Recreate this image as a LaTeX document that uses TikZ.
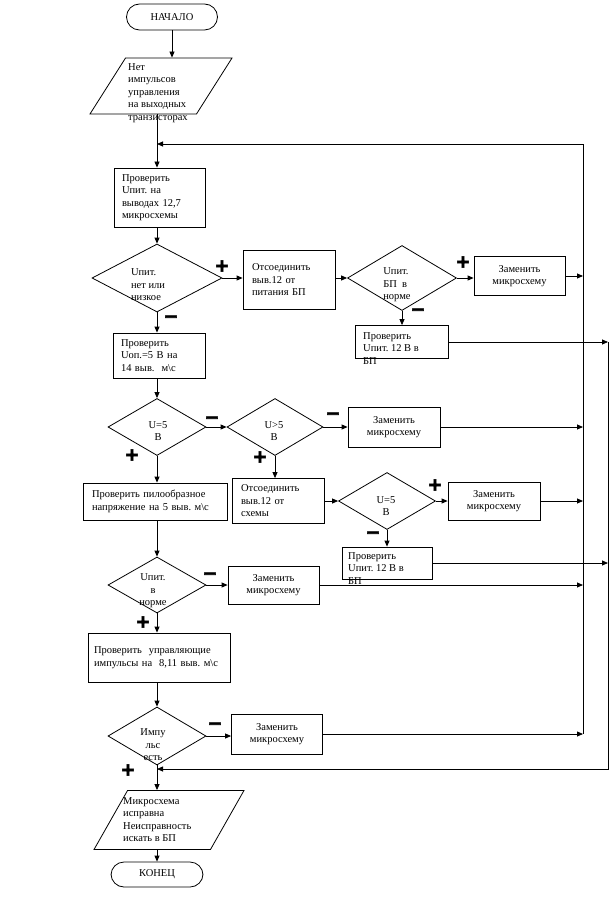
\documentclass[tikz,border=0pt]{standalone}
\usepackage{fontspec}
\setmainfont{Liberation Serif}
\newfontfamily\signfont[FakeBold=3]{DejaVu Sans Bold}
\frenchspacing
\usepackage{tikz}
\usetikzlibrary{shapes.geometric,arrows.meta}
\tikzset{
  TB/.style={rectangle,rounded corners=13pt,draw,line width=0.8pt,
             minimum width=91pt,minimum height=26pt,inner sep=0pt},
  PB/.style={rectangle,draw,line width=0.8pt,align=left,
             inner xsep=8pt,inner ysep=0pt},
  ZB/.style={rectangle,draw,line width=0.8pt,align=center,inner sep=0pt,
             minimum width=91pt,minimum height=39pt},
  DM/.style={diamond,draw,line width=0.8pt,inner sep=0pt},
  PG/.style={trapezium,trapezium left angle=63.4,trapezium right angle=116.6,
             trapezium stretches=true,draw,line width=0.8pt,inner sep=2pt},
  TX/.style={inner sep=0pt},
  SG/.style={inner sep=0pt,font=\signfont\fontsize{18}{18}\selectfont},
  arr/.style={-{Triangle[length=6pt,width=5pt]},line width=0.8pt}
}

\begin{document}
\begin{tikzpicture}[x=1pt,y=-1pt,every node/.style={font=\fontsize{10.5}{12.5}\selectfont}]
  \useasboundingbox (0,0) rectangle (610,909);

  % main column
  \node[TB] (beg) at (172,17) {НАЧАЛО};
  \node[PG,minimum width=142pt,minimum height=56pt] (nsig) at (161,86) {};
  \node[TX,anchor=north west,align=left] (nsigt) at (128,63) {Нет\\импульсов\\управления\\на выходных\\транзисторах};
  \node[PB,text width=75pt,minimum height=59pt] (pv1) at (159.5,197.5) {Проверить\\Uпит. на\\выводах 12,7\\микросхемы};
  \node[DM,minimum width=130pt,minimum height=68pt] (d1) at (157,278) {};
  \node[TX,align=left] (d1t) at (148,285) {Uпит.\\нет или\\низкое};
  \node[PB,text width=76pt,minimum height=45pt] (uop) at (159,355.5) {Проверить\\Uоп.=5 В на\\14 выв.~ м\textbackslash с};
  \node[DM,minimum width=98pt,minimum height=57pt] (d3) at (157,427) {};
  \node[TX,align=center] (d3t) at (158,431) {U=5\\В};
  \node[PB,text width=126pt,inner xsep=9pt,minimum height=37pt] (pil) at (155,501.5) {Проверить пилообразное\\напряжение на 5 выв. м\textbackslash с};
  \node[DM,minimum width=98pt,minimum height=56pt] (d6) at (157,585) {};
  \node[TX,align=center] (d6t) at (153,591) {Uпит.\\в\\норме};
  \node[PB,text width=130pt,inner xsep=6pt,minimum height=49pt] (upr) at (159,657.5) {Проверить~ управляющие\\импульсы на~ 8,11 выв. м\textbackslash с};
  \node[DM,minimum width=98pt,minimum height=58pt] (d7) at (157,736) {};
  \node[TX,align=center] (d7t) at (153,745) {Импу\\льс\\есть};
  \node[PG,trapezium left angle=68,trapezium right angle=112,minimum width=150pt,minimum height=59pt] (ok) at (169,820) {};
  \node[TX,anchor=north west,align=left] (okt) at (123,797) {Микросхема\\исправна\\Неисправность\\искать в БП};
  \node[TB,minimum width=92pt,minimum height=25pt] (fin) at (157,874.5) {КОНЕЦ};

  % right branches
  \node[PB,text width=74pt,inner xsep=9pt,minimum height=59pt] (otk1) at (289,280) {Отсоединить\\выв.12 от\\питания БП};
  \node[DM,minimum width=109pt,minimum height=65pt] (d2) at (402,278) {};
  \node[TX,align=left] (d2t) at (397,285) {Uпит.\\БП~~в\\норме};
  \node[ZB] (zam1) at (519.5,276) {Заменить\\микросхему};
  \node[PB,text width=77pt,minimum height=33pt] (pb1) at (401.5,342) {};
  \node[TX,anchor=north west,align=left] (pb1t) at (363,332) {Проверить\\Uпит. 12 В в\\БП};
  \node[DM,minimum width=96pt,minimum height=57pt] (d4) at (275,427) {};
  \node[TX,align=center] (d4t) at (274,431) {U>5\\В};
  \node[ZB,minimum width=92pt,minimum height=40pt] (zam2) at (394,427) {Заменить\\микросхему};
  \node[PB,text width=74pt,inner xsep=9pt,minimum height=45pt] (otk2) at (278,501) {Отсоединить\\выв.12 от\\схемы};
  \node[DM,minimum width=97pt,minimum height=57pt] (d5) at (387,501) {};
  \node[TX,align=center] (d5t) at (386,506) {U=5\\В};
  \node[ZB,minimum width=92pt,minimum height=38pt] (zam3) at (494,501) {Заменить\\микросхему};
  \node[PB,text width=76pt,inner xsep=7pt,minimum height=32pt] (pb2) at (387,563) {};
  \node[TX,anchor=north west,align=left] (pb2t) at (348,552) {Проверить\\Uпит. 12 В в\\БП};
  \node[ZB,minimum width=91pt,minimum height=38pt] (zam4) at (273.5,585) {Заменить\\микросхему};
  \node[ZB,minimum width=91pt,minimum height=40pt] (zam5) at (277,734) {Заменить\\микросхему};

  % signs
  \node[SG] (p1) at (222,266) {+};
  \node[SG] (m1) at (171,319) {−};
  \node[SG] (p2) at (463,262) {+};
  \node[SG] (m2) at (418,312) {−};
  \node[SG] (m3) at (212,420) {−};
  \node[SG] (p3) at (132,455) {+};
  \node[SG] (m4) at (333,416) {−};
  \node[SG] (p4) at (260,457) {+};
  \node[SG] (p5) at (435,485) {+};
  \node[SG] (m5) at (373,535) {−};
  \node[SG] (m6) at (210,576) {−};
  \node[SG] (p6) at (143,622) {+};
  \node[SG] (m7) at (215,726) {−};
  \node[SG] (p7) at (128,770) {+};

  % buses
  \coordinate (c1) at (157,144);
  \coordinate (c2) at (157,769);
  \coordinate (ibt) at (583,144);
  \coordinate (ibb) at (583,734);
  \coordinate (obt) at (608,342);
  \coordinate (obb) at (608,769);

  \draw[arr] (beg.south) -- (beg.south |- nsig.north);
  \draw[line width=0.8pt] (c1 |- nsig.south) -- (c1);
  \draw[arr] (c1) -- (c1 |- pv1.north);
  \draw[arr] (pv1.south -| d1.north) -- (d1.north);
  \draw[arr] (d1.east) -- (d1.east -| otk1.west);
  \draw[arr] (d2.west -| otk1.east) -- (d2.west);
  \draw[arr] (d2.east) -- (d2.east -| zam1.west);
  \draw[arr] (d2.south) -- (d2.south |- pb1.north);
  \draw[arr] (d1.south) -- (d1.south |- uop.north);
  \draw[arr] (uop.south -| d3.north) -- (d3.north);
  \draw[arr] (d3.east) -- (d4.west);
  \draw[arr] (d4.east) -- (zam2.west);
  \draw[arr] (d3.south) -- (d3.south |- pil.north);
  \draw[arr] (d4.south) -- (d4.south |- otk2.north);
  \draw[arr] (otk2.east) -- (d5.west);
  \draw[arr] (d5.east) -- (zam3.west);
  \draw[arr] (d5.south) -- (d5.south |- pb2.north);
  \draw[arr] (pil.south -| d6.north) -- (d6.north);
  \draw[arr] (d6.east) -- (d6.east -| zam4.west);
  \draw[arr] (d6.south) -- (d6.south |- upr.north);
  \draw[arr] (upr.south -| d7.north) -- (d7.north);
  \draw[arr] (d7.east) -- (d7.east -| zam5.west);
  \draw[arr] (d7.south) -- (d7.south |- ok.north);
  \draw[arr] (ok.south -| fin.north) -- (fin.north);

  \draw[arr] (zam1.east) -- (zam1.east -| ibt);
  \draw[arr] (zam2.east) -- (zam2.east -| ibt);
  \draw[arr] (zam3.east) -- (zam3.east -| ibt);
  \draw[arr] (zam4.east) -- (zam4.east -| ibt);
  \draw[arr] (zam5.east) -- (ibb);
  \draw[arr] (ibb) -- (ibt) -- (c1);

  \draw[arr] (pb1.east) -- (pb1.east -| obt);
  \draw[arr] (pb2.east) -- (pb2.east -| obt);
  \draw[arr] (obt) -- (obb) -- (c2);
\end{tikzpicture}
\end{document}
